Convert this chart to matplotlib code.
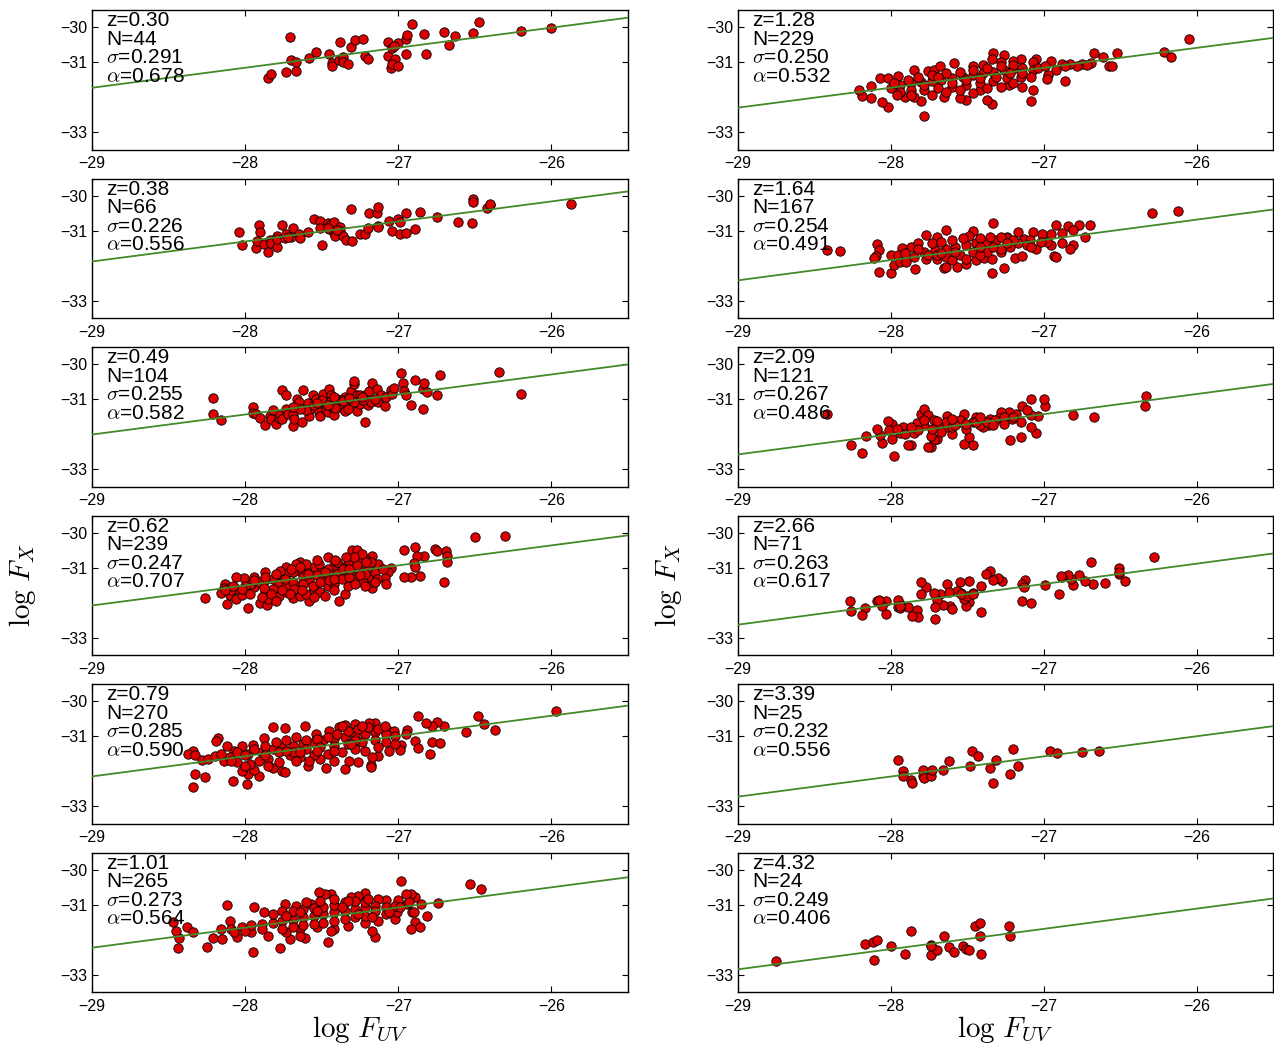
import matplotlib
matplotlib.use("Agg")
import matplotlib.pyplot as plt

plt.rcParams['font.family'] = ['Liberation Sans', 'DejaVu Sans']
plt.rcParams['mathtext.fontset'] = 'cm'
plt.rcParams['axes.unicode_minus'] = True

# === Werte ===
z_vals = ["0.30", "0.38", "0.49", "0.62", "0.79", "1.01",
          "1.28", "1.64", "2.09", "2.66", "3.39", "4.32"]
n_vals = [44, 66, 104, 239, 270, 265, 229, 167, 121, 71, 25, 24]
sigma_vals = ["0.291", "0.226", "0.255", "0.247", "0.285", "0.273",
              "0.250", "0.254", "0.267", "0.263", "0.232", "0.249"]
alpha_vals = ["0.678", "0.556", "0.582", "0.707", "0.590", "0.564",
              "0.532", "0.491", "0.486", "0.617", "0.556", "0.406"]

# Fitgerade: log F_X bei log F_UV = -29 und -25.5
line_lo = [-31.73, -31.88, -32.01, -32.08, -32.15, -32.23,
           -32.30, -32.42, -32.58, -32.63, -32.73, -32.85]
line_hi = [-29.72, -29.87, -30.00, -30.07, -30.12, -30.21,
           -30.30, -30.39, -30.56, -30.59, -30.71, -30.82]

# Messpunkte (log F_UV, log F_X) je Rotverschiebungs-Bin
pts_030 = [(-27.85, -31.44), (-27.83, -31.34), (-27.73, -31.29), (-27.67, -31.25), (-27.71, -30.26),
           (-27.70, -30.92), (-27.67, -30.99), (-27.58, -30.87), (-27.54, -30.69), (-27.45, -30.77),
           (-27.43, -31.01), (-27.43, -31.10), (-27.39, -30.93), (-27.38, -30.41), (-27.36, -30.84),
           (-27.36, -30.98), (-27.33, -31.04), (-27.31, -30.56), (-27.28, -30.35), (-27.23, -30.33),
           (-27.22, -30.82), (-27.20, -30.90), (-27.07, -30.42), (-27.07, -30.81), (-27.04, -30.58),
           (-27.00, -30.45), (-27.02, -30.90), (-27.05, -31.17), (-27.04, -31.06), (-27.00, -31.12),
           (-26.95, -30.32), (-26.94, -30.23), (-26.91, -29.91), (-26.95, -30.77), (-26.83, -30.20),
           (-26.82, -30.77), (-26.70, -30.13), (-26.67, -30.50), (-26.63, -30.24), (-26.51, -30.16),
           (-26.47, -29.83), (-26.20, -30.10), (-26.00, -30.01), (-27.03, -30.52)]

pts_038 = [(-28.04, -31.04), (-28.02, -31.42), (-27.93, -31.49), (-27.92, -31.29), (-27.91, -30.82),
           (-27.90, -31.04), (-27.88, -31.38), (-27.85, -31.62), (-27.84, -31.27), (-27.83, -31.36),
           (-27.79, -31.46), (-27.79, -31.15), (-27.79, -31.23), (-27.76, -30.84), (-27.74, -31.20),
           (-27.73, -31.08), (-27.70, -31.19), (-27.69, -30.93), (-27.65, -31.10), (-27.64, -31.21),
           (-27.59, -31.04), (-27.55, -30.66), (-27.51, -30.71), (-27.51, -30.93), (-27.50, -31.41),
           (-27.46, -30.79), (-27.45, -30.96), (-27.44, -30.80), (-27.42, -30.76), (-27.42, -31.06),
           (-27.41, -31.15), (-27.38, -30.90), (-27.38, -31.01), (-27.36, -31.15), (-27.34, -31.25),
           (-27.31, -30.37), (-27.30, -31.30), (-27.25, -31.08), (-27.22, -31.10), (-27.20, -30.91),
           (-27.19, -30.48), (-27.14, -30.50), (-27.13, -30.32), (-27.13, -30.85), (-27.13, -30.90),
           (-27.06, -30.71), (-27.04, -31.01), (-27.00, -30.65), (-26.99, -30.76), (-26.99, -31.10),
           (-26.95, -31.06), (-26.95, -30.48), (-26.89, -30.94), (-26.86, -30.45), (-26.75, -30.60),
           (-26.61, -30.75), (-26.52, -30.77), (-26.51, -30.10), (-26.51, -30.18), (-26.42, -30.35),
           (-26.40, -30.27), (-26.40, -30.22), (-25.87, -30.22), (-27.40, -30.98), (-27.72, -31.17),
           (-27.46, -30.93)]

pts_049 = [(-28.21, -30.96), (-28.21, -31.41), (-28.16, -31.60), (-27.95, -31.23), (-27.95, -31.39),
           (-27.93, -31.43), (-27.90, -31.54), (-27.87, -31.73), (-27.84, -31.49), (-27.83, -31.57),
           (-27.82, -31.30), (-27.80, -31.72), (-27.78, -31.54), (-27.77, -31.44), (-27.76, -31.56),
           (-27.76, -30.74), (-27.73, -30.89), (-27.73, -31.29), (-27.72, -31.41), (-27.69, -31.41),
           (-27.69, -31.77), (-27.68, -31.56), (-27.66, -30.98), (-27.65, -31.08), (-27.63, -31.66),
           (-27.62, -30.72), (-27.59, -31.12), (-27.58, -31.49), (-27.57, -31.24), (-27.56, -30.89),
           (-27.54, -31.00), (-27.52, -31.22), (-27.52, -31.36), (-27.51, -31.49), (-27.51, -31.08),
           (-27.49, -30.84), (-27.50, -31.03), (-27.47, -31.32), (-27.46, -31.36), (-27.45, -30.71),
           (-27.44, -30.89), (-27.43, -31.22), (-27.42, -31.46), (-27.41, -31.06), (-27.40, -30.98),
           (-27.38, -31.15), (-27.37, -31.24), (-27.35, -30.93), (-27.35, -31.34), (-27.33, -31.10),
           (-27.32, -31.15), (-27.31, -30.77), (-27.29, -30.55), (-27.29, -30.48), (-27.28, -31.20),
           (-27.27, -31.33), (-27.27, -30.89), (-27.25, -30.89), (-27.25, -31.14), (-27.22, -31.65),
           (-27.22, -30.87), (-27.20, -31.17), (-27.19, -30.77), (-27.18, -31.08), (-27.17, -30.52),
           (-27.14, -30.71), (-27.13, -31.08), (-27.11, -30.89), (-27.09, -31.20), (-27.08, -30.93),
           (-27.05, -30.73), (-27.04, -30.84), (-27.03, -30.67), (-26.98, -30.25), (-26.97, -30.53),
           (-26.96, -30.77), (-26.95, -30.89), (-26.92, -31.17), (-26.89, -30.45), (-26.84, -30.71),
           (-26.84, -31.29), (-26.83, -30.52), (-26.81, -30.79), (-26.75, -30.89), (-26.73, -30.31),
           (-26.34, -30.22), (-26.20, -30.86), (-27.60, -31.32), (-27.55, -31.15), (-27.44, -31.06),
           (-27.41, -31.25), (-27.37, -31.03), (-27.33, -31.27), (-27.29, -31.08), (-27.23, -31.03),
           (-27.15, -30.98), (-27.64, -31.27), (-27.69, -31.22), (-27.53, -31.10), (-27.46, -31.15),
           (-27.42, -30.93), (-27.36, -31.06), (-27.32, -30.96), (-27.24, -30.93)]

pts_062 = [(-28.26, -31.87), (-28.12, -32.04), (-27.98, -32.16), (-27.90, -32.00), (-27.86, -32.08),
           (-27.39, -31.96), (-27.58, -31.96), (-26.50, -30.11), (-26.30, -30.10), (-26.70, -31.40),
           (-26.96, -30.50), (-26.89, -30.41), (-26.76, -30.45), (-26.75, -30.53), (-26.69, -30.52),
           (-26.68, -30.67), (-26.68, -30.84), (-26.83, -30.65), (-26.88, -30.65), (-26.90, -30.87),
           (-26.89, -30.98), (-26.86, -31.24), (-26.92, -31.25), (-26.96, -31.25), (-27.05, -31.01),
           (-27.07, -31.12), (-27.09, -31.29), (-27.08, -31.46), (-27.17, -31.57), (-27.18, -31.41),
           (-27.17, -30.66), (-27.30, -30.50), (-27.27, -30.50), (-27.31, -30.74), (-27.46, -30.69),
           (-27.64, -30.84), (-27.73, -30.98), (-27.87, -31.13), (-27.94, -31.27), (-28.01, -31.30),
           (-28.06, -31.27), (-28.13, -31.46), (-28.14, -31.57), (-28.16, -31.72), (-28.10, -31.77),
           (-28.06, -31.88), (-28.02, -31.79), (-27.99, -31.65), (-27.94, -31.56), (-27.87, -31.73),
           (-27.85, -31.89), (-27.78, -31.80), (-27.73, -31.70), (-27.69, -31.87), (-27.64, -31.80),
           (-27.60, -31.75), (-27.55, -31.65), (-27.51, -31.69), (-27.46, -31.51), (-27.42, -31.46),
           (-27.35, -31.75), (-27.33, -31.51), (-27.28, -31.36), (-27.23, -31.41), (-27.18, -31.27),
           (-27.15, -31.12), (-27.13, -30.89), (-27.22, -30.74), (-27.20, -30.98), (-27.26, -30.79),
           (-27.33, -30.89), (-27.37, -30.98), (-27.42, -30.93), (-27.46, -31.03), (-27.51, -31.08),
           (-27.55, -30.98), (-27.60, -31.03), (-27.64, -31.08), (-27.69, -31.12), (-27.73, -31.17),
           (-27.78, -31.27), (-27.82, -31.32), (-27.87, -31.36), (-27.91, -31.41), (-27.96, -31.46),
           (-28.00, -31.51), (-28.05, -31.60), (-28.09, -31.65), (-27.62, -31.27), (-27.58, -31.36),
           (-27.53, -31.22), (-27.49, -31.32), (-27.44, -31.22), (-27.40, -31.17), (-27.35, -31.12),
           (-27.31, -31.08), (-27.26, -31.03), (-27.22, -31.17), (-27.78, -31.46), (-27.73, -31.51),
           (-27.69, -31.41), (-27.64, -31.51), (-27.82, -31.60), (-27.76, -31.63), (-27.68, -31.60),
           (-27.62, -31.46), (-27.56, -31.51), (-27.51, -31.41), (-27.45, -31.36), (-27.37, -31.32),
           (-27.32, -31.27), (-27.25, -31.22), (-27.88, -31.57), (-27.83, -31.75), (-27.97, -31.75),
           (-28.02, -31.60), (-27.67, -30.89), (-27.60, -30.89), (-27.52, -30.89), (-27.40, -30.84),
           (-27.36, -31.03), (-27.27, -30.93), (-27.18, -30.84), (-27.24, -30.60), (-27.29, -30.69),
           (-27.34, -30.69), (-27.77, -31.08), (-27.70, -31.03), (-27.64, -30.98), (-27.87, -31.27),
           (-27.80, -31.17), (-27.94, -31.36), (-28.08, -31.51), (-28.13, -31.63), (-27.10, -31.03),
           (-27.14, -31.32), (-27.22, -31.51), (-27.28, -31.46), (-27.42, -31.65), (-27.48, -31.80),
           (-27.55, -31.84), (-27.63, -31.65), (-27.71, -31.75), (-27.80, -31.96), (-27.89, -31.84),
           (-27.53, -30.79), (-27.41, -30.79), (-27.21, -30.84), (-27.74, -31.32), (-27.59, -31.17),
           (-27.48, -31.12), (-27.42, -31.32), (-27.32, -31.03), (-27.15, -31.41)]

pts_079 = [(-25.97, -30.28), (-26.48, -30.43), (-26.44, -30.64), (-26.37, -30.81), (-26.56, -30.88),
           (-26.70, -30.71), (-26.75, -30.58), (-26.78, -30.69), (-26.82, -30.62), (-26.87, -30.43),
           (-26.94, -30.82), (-26.89, -31.14), (-26.87, -31.33), (-26.78, -31.17), (-26.73, -31.18),
           (-26.79, -31.51), (-26.98, -31.25), (-26.99, -31.38), (-27.06, -30.85), (-27.03, -30.84),
           (-27.15, -30.62), (-27.19, -30.62), (-27.28, -30.64), (-27.35, -30.67), (-27.39, -30.74),
           (-27.45, -30.84), (-27.54, -30.93), (-27.61, -30.69), (-27.74, -30.77), (-27.82, -30.73),
           (-27.88, -31.04), (-27.95, -31.25), (-28.02, -31.29), (-28.07, -31.41), (-28.12, -31.29),
           (-28.18, -31.05), (-28.19, -31.14), (-28.34, -31.41), (-28.37, -31.51), (-28.33, -31.55),
           (-28.28, -31.68), (-28.24, -31.65), (-28.20, -31.56), (-28.14, -31.70), (-28.33, -32.09),
           (-28.26, -32.16), (-28.34, -32.44), (-28.08, -32.27), (-27.99, -32.37), (-27.91, -32.15),
           (-27.98, -32.08), (-28.02, -32.00), (-27.94, -31.96), (-27.82, -31.91), (-27.76, -32.00),
           (-27.74, -32.03), (-27.59, -31.85), (-27.47, -31.91), (-27.35, -31.94), (-27.18, -31.82),
           (-27.18, -31.87), (-27.13, -31.56), (-27.26, -31.75), (-27.32, -31.70), (-27.42, -31.70),
           (-27.51, -31.65), (-27.64, -31.60), (-27.71, -31.55), (-27.78, -31.75), (-27.85, -31.65),
           (-27.91, -31.70), (-27.97, -31.79), (-28.05, -31.75), (-28.10, -31.60), (-28.16, -31.51),
           (-28.05, -31.46), (-27.98, -31.52), (-27.89, -31.46), (-27.82, -31.36), (-27.76, -31.31),
           (-27.69, -31.27), (-27.62, -31.22), (-27.55, -31.17), (-27.49, -31.12), (-27.42, -31.07),
           (-27.35, -31.03), (-27.28, -30.98), (-27.22, -30.93), (-27.15, -30.88), (-27.08, -30.93),
           (-27.02, -30.98), (-27.33, -30.84), (-27.26, -30.79), (-27.20, -30.74), (-27.13, -30.79),
           (-27.40, -30.93), (-27.46, -31.03), (-27.53, -31.07), (-27.60, -31.12), (-27.67, -31.03),
           (-27.73, -31.10), (-27.80, -31.17), (-27.87, -31.27), (-27.94, -31.36), (-28.00, -31.55),
           (-28.09, -31.70), (-27.78, -31.46), (-27.69, -31.46), (-27.60, -31.36), (-27.51, -31.31),
           (-27.42, -31.27), (-27.33, -31.22), (-27.24, -31.17), (-27.15, -31.12), (-27.08, -31.17),
           (-27.28, -31.36), (-27.37, -31.46), (-27.46, -31.51), (-27.55, -31.55), (-27.64, -31.46),
           (-27.73, -31.41), (-27.87, -31.55), (-27.22, -31.41), (-27.13, -31.31), (-27.28, -31.12),
           (-27.42, -31.41), (-27.53, -31.41), (-27.67, -31.70), (-27.58, -31.70), (-27.85, -31.84),
           (-28.00, -31.84), (-27.37, -30.69), (-27.24, -30.69), (-27.09, -30.69), (-27.31, -31.22),
           (-27.02, -31.22), (-26.95, -30.93), (-27.06, -31.41), (-27.17, -31.60)]

pts_101 = [(-26.53, -30.39), (-26.46, -30.55), (-26.98, -30.33), (-26.74, -30.96), (-26.81, -31.31),
           (-26.85, -30.98), (-26.89, -30.79), (-26.92, -30.69), (-26.95, -30.69), (-26.94, -30.98),
           (-26.91, -31.22), (-26.89, -31.48), (-26.86, -31.65), (-26.92, -31.68), (-27.02, -31.41),
           (-27.01, -31.22), (-27.00, -30.86), (-27.08, -30.86), (-27.13, -30.84), (-27.15, -31.91),
           (-27.17, -31.75), (-27.22, -30.66), (-27.26, -30.74), (-27.31, -30.79), (-27.44, -30.69),
           (-27.48, -30.69), (-27.52, -30.62), (-27.46, -32.08), (-27.61, -31.96), (-27.71, -31.98),
           (-27.77, -32.25), (-27.95, -32.34), (-28.25, -32.22), (-28.44, -32.24), (-28.43, -31.94),
           (-28.45, -31.76), (-28.47, -31.48), (-28.38, -31.65), (-28.34, -31.79), (-28.12, -31.00),
           (-28.10, -31.46), (-27.94, -31.06), (-27.88, -31.22), (-27.74, -30.98), (-27.67, -31.03),
           (-27.57, -30.98), (-28.21, -31.94), (-28.15, -31.98), (-28.05, -31.91), (-27.96, -31.79),
           (-27.85, -31.89), (-27.73, -31.79), (-27.64, -31.70), (-27.53, -31.65), (-27.42, -31.70),
           (-27.33, -31.60), (-27.22, -31.51), (-27.13, -31.46), (-28.16, -31.70), (-28.09, -31.70),
           (-28.02, -31.65), (-27.96, -31.58), (-27.89, -31.55), (-27.82, -31.51), (-27.76, -31.46),
           (-27.69, -31.43), (-27.62, -31.36), (-27.55, -31.31), (-27.49, -31.27), (-27.42, -31.22),
           (-27.35, -31.17), (-27.28, -31.12), (-27.22, -31.07), (-27.15, -31.03), (-27.08, -31.07),
           (-27.02, -31.03), (-27.82, -31.27), (-27.76, -31.17), (-27.69, -31.17), (-27.62, -31.12),
           (-27.55, -31.10), (-27.49, -31.05), (-27.42, -31.01), (-27.35, -30.93), (-27.28, -30.88),
           (-27.22, -30.93), (-27.15, -31.17), (-27.08, -31.27), (-27.22, -31.31), (-27.28, -31.36),
           (-27.35, -31.41), (-27.42, -31.46), (-27.49, -31.51), (-27.55, -31.55), (-27.62, -31.58),
           (-27.69, -31.65), (-27.76, -31.70), (-27.89, -31.70), (-28.00, -31.74), (-28.07, -31.79),
           (-27.64, -31.89), (-27.44, -31.74), (-27.33, -30.88), (-27.20, -30.84), (-27.06, -31.22),
           (-26.99, -31.07), (-26.93, -30.93), (-26.90, -31.22), (-27.42, -30.84), (-27.51, -30.88),
           (-27.60, -30.93), (-27.73, -31.31), (-27.64, -31.22), (-27.53, -31.17), (-27.37, -31.07),
           (-27.26, -31.27), (-27.17, -31.36)]

pts_128 = [(-26.05, -30.34), (-26.21, -30.69), (-26.17, -30.84), (-26.52, -30.72), (-26.67, -30.72),
           (-26.61, -30.84), (-26.57, -31.10), (-26.55, -31.10), (-26.69, -31.03), (-26.75, -31.06),
           (-26.78, -31.10), (-26.83, -31.06), (-26.88, -31.06), (-26.95, -30.96), (-26.92, -31.22),
           (-26.97, -31.35), (-26.98, -31.49), (-26.86, -31.54), (-27.05, -30.91), (-27.07, -30.98),
           (-27.15, -30.91), (-27.20, -30.96), (-27.26, -30.79), (-27.33, -30.74), (-27.34, -30.91),
           (-27.28, -30.98), (-27.07, -31.80), (-27.08, -32.11), (-27.14, -31.70), (-27.23, -31.65),
           (-27.34, -32.20), (-27.37, -32.09), (-27.42, -31.80), (-27.51, -32.08), (-27.55, -32.01),
           (-27.65, -31.99), (-27.78, -32.53), (-27.80, -32.11), (-27.85, -31.99), (-27.91, -31.99),
           (-28.02, -32.29), (-28.06, -32.14), (-28.13, -32.01), (-28.19, -31.96), (-28.21, -31.80),
           (-28.13, -31.68), (-28.07, -31.46), (-28.02, -31.46), (-27.95, -31.39), (-27.85, -31.22),
           (-27.76, -31.25), (-27.72, -31.22), (-27.68, -31.10), (-27.59, -31.03), (-27.46, -31.10),
           (-27.40, -31.08), (-28.00, -31.75), (-27.94, -31.65), (-27.87, -31.60), (-27.80, -31.57),
           (-27.73, -31.54), (-27.67, -31.51), (-27.60, -31.46), (-27.53, -31.41), (-27.46, -31.36),
           (-27.40, -31.32), (-27.33, -31.27), (-27.26, -31.22), (-27.20, -31.19), (-27.14, -31.17),
           (-27.07, -31.22), (-27.94, -31.84), (-27.87, -31.80), (-27.78, -31.80), (-27.69, -31.75),
           (-27.60, -31.70), (-27.51, -31.65), (-27.42, -31.60), (-27.33, -31.54), (-27.24, -31.46),
           (-27.15, -31.41), (-27.08, -31.41), (-27.82, -31.41), (-27.73, -31.36), (-27.64, -31.32),
           (-27.55, -31.27), (-27.46, -31.22), (-27.37, -31.17), (-27.28, -31.12), (-27.20, -31.08),
           (-27.98, -31.60), (-27.89, -31.51), (-27.64, -31.84), (-27.55, -31.80), (-27.46, -31.89),
           (-27.37, -31.75), (-27.28, -31.70), (-27.20, -31.60), (-27.87, -31.94), (-27.73, -31.94),
           (-27.60, -31.60), (-27.51, -31.51), (-27.42, -31.46), (-27.31, -31.41), (-27.22, -31.32),
           (-27.14, -31.32), (-27.04, -31.17), (-26.99, -31.12), (-26.86, -31.12), (-26.72, -31.08),
           (-27.69, -31.41), (-27.78, -31.65), (-27.96, -31.94)]

pts_164 = [(-26.12, -30.43), (-26.29, -30.48), (-26.70, -30.84), (-26.77, -30.84), (-26.84, -30.86),
           (-26.92, -30.84), (-26.81, -30.98), (-26.88, -31.06), (-26.73, -31.17), (-26.81, -31.41),
           (-26.83, -31.51), (-26.88, -31.36), (-26.95, -31.41), (-26.98, -31.32), (-26.95, -31.08),
           (-27.01, -31.10), (-27.07, -31.03), (-27.13, -31.24), (-27.17, -31.03), (-27.24, -31.17),
           (-27.26, -32.08), (-27.34, -32.20), (-27.33, -30.79), (-27.46, -31.01), (-27.49, -31.15),
           (-27.64, -30.98), (-27.70, -31.17), (-27.77, -31.12), (-27.85, -31.46), (-27.87, -31.46),
           (-27.93, -31.49), (-28.00, -31.70), (-27.95, -31.70), (-28.09, -31.39), (-28.08, -31.56),
           (-28.10, -31.73), (-28.11, -31.77), (-28.08, -32.18), (-28.00, -32.20), (-27.98, -31.99),
           (-27.94, -31.89), (-27.90, -31.89), (-27.84, -32.10), (-27.77, -31.82), (-27.70, -31.82),
           (-27.65, -32.08), (-27.64, -32.03), (-27.57, -32.03), (-27.51, -31.96), (-27.44, -31.84),
           (-27.39, -31.77), (-27.34, -31.80), (-27.28, -31.60), (-27.19, -31.78), (-27.14, -31.73),
           (-26.93, -31.71), (-26.92, -31.75), (-27.05, -31.51), (-27.09, -31.27), (-28.42, -31.54),
           (-28.33, -31.58), (-27.91, -31.65), (-27.85, -31.75), (-27.78, -31.60), (-27.71, -31.56),
           (-27.64, -31.51), (-27.58, -31.46), (-27.51, -31.41), (-27.44, -31.36), (-27.37, -31.32),
           (-27.31, -31.27), (-27.24, -31.22), (-27.17, -31.36), (-27.11, -31.41), (-27.82, -31.36),
           (-27.73, -31.36), (-27.67, -31.32), (-27.60, -31.27), (-27.53, -31.22), (-27.42, -31.22),
           (-27.35, -31.17), (-27.28, -31.17), (-27.20, -31.27), (-27.64, -31.75), (-27.55, -31.70),
           (-27.46, -31.60), (-27.37, -31.60), (-27.28, -31.51), (-27.22, -31.46), (-27.76, -31.70),
           (-27.60, -31.84), (-27.51, -31.80), (-27.42, -31.70), (-27.33, -31.46), (-27.08, -31.46),
           (-27.02, -31.32), (-27.58, -31.60), (-27.70, -31.70), (-27.42, -31.46), (-27.24, -31.36),
           (-27.82, -31.51), (-27.67, -31.63)]

pts_209 = [(-26.33, -30.90), (-26.34, -31.20), (-26.67, -31.51), (-26.81, -31.44), (-26.99, -31.19),
           (-27.00, -31.00), (-27.08, -30.98), (-27.14, -31.20), (-27.05, -31.96), (-27.08, -31.80),
           (-27.04, -31.49), (-27.08, -31.46), (-27.11, -31.32), (-27.15, -31.65), (-27.15, -32.08),
           (-27.22, -32.16), (-27.18, -31.41), (-27.21, -31.56), (-27.23, -31.36), (-27.28, -31.36),
           (-27.29, -31.54), (-27.35, -31.57), (-27.36, -31.73), (-27.40, -31.80), (-27.44, -31.51),
           (-27.46, -32.30), (-27.52, -32.29), (-27.49, -32.08), (-27.51, -31.84), (-27.52, -31.41),
           (-27.55, -31.65), (-27.60, -31.99), (-27.63, -31.48), (-27.63, -31.78), (-27.70, -32.13),
           (-27.72, -32.18), (-27.74, -32.06), (-27.74, -32.37), (-27.76, -32.37), (-27.80, -31.41),
           (-27.78, -31.27), (-27.76, -31.46), (-27.72, -31.60), (-27.78, -31.75), (-27.83, -31.67),
           (-27.85, -31.96), (-27.87, -32.30), (-27.89, -32.30), (-27.92, -31.78), (-27.94, -31.96),
           (-27.99, -31.70), (-28.02, -31.63), (-27.99, -32.13), (-28.06, -32.24), (-28.01, -31.87),
           (-28.07, -32.01), (-28.09, -31.86), (-28.16, -32.05), (-28.19, -32.53), (-27.98, -32.62),
           (-28.26, -32.32), (-28.42, -31.41), (-27.64, -31.65), (-27.60, -31.80), (-27.55, -31.60),
           (-27.46, -31.65), (-27.42, -31.75), (-27.37, -31.65), (-27.32, -31.60), (-27.26, -31.51),
           (-27.20, -31.51), (-27.69, -31.75), (-27.73, -31.84), (-27.82, -31.89), (-27.91, -31.99),
           (-27.96, -31.84), (-27.67, -31.94), (-27.58, -31.75), (-27.51, -31.70), (-27.44, -31.65),
           (-27.33, -31.75), (-27.26, -31.70), (-27.42, -31.51), (-27.60, -31.56), (-27.70, -31.63),
           (-27.78, -31.60), (-27.87, -31.80)]

pts_266 = [(-26.28, -30.69), (-26.69, -30.84), (-26.51, -31.00), (-26.51, -31.19), (-26.47, -31.38),
           (-26.60, -31.43), (-26.68, -31.47), (-26.73, -31.38), (-26.77, -31.21), (-26.81, -31.48),
           (-26.82, -31.31), (-26.84, -31.20), (-26.88, -31.26), (-26.89, -31.24), (-26.90, -31.75),
           (-26.99, -31.48), (-27.12, -31.36), (-27.14, -31.45), (-27.13, -31.55), (-27.14, -31.94),
           (-27.08, -32.01), (-27.27, -31.39), (-27.30, -31.30), (-27.33, -31.36), (-27.35, -31.10),
           (-27.38, -31.19), (-27.41, -31.53), (-27.41, -32.26), (-27.46, -31.72), (-27.49, -31.37),
           (-27.49, -31.99), (-27.51, -32.10), (-27.52, -31.89), (-27.54, -31.72), (-27.55, -31.41),
           (-27.57, -31.66), (-27.61, -32.10), (-27.60, -32.17), (-27.63, -31.46), (-27.66, -32.06),
           (-27.68, -31.75), (-27.70, -31.91), (-27.72, -31.73), (-27.71, -32.13), (-27.71, -32.48),
           (-27.77, -31.55), (-27.80, -31.41), (-27.80, -31.75), (-27.83, -32.20), (-27.82, -32.41),
           (-27.86, -32.37), (-27.89, -32.12), (-27.94, -32.03), (-27.95, -31.91), (-27.95, -32.13),
           (-27.94, -32.15), (-28.03, -31.95), (-28.03, -32.32), (-28.06, -32.10), (-28.09, -31.96),
           (-28.08, -31.91), (-28.17, -32.15), (-28.19, -32.36), (-28.27, -31.94), (-28.26, -32.24),
           (-27.50, -31.81), (-27.46, -31.76), (-27.54, -31.76), (-27.62, -31.70), (-27.94, -32.10),
           (-26.51, -31.12)]

pts_339 = [(-27.95, -31.69), (-27.92, -32.00), (-27.92, -32.13), (-27.87, -32.25), (-27.86, -32.34),
           (-27.79, -31.96), (-27.79, -32.13), (-27.78, -32.20), (-27.74, -32.15), (-27.73, -31.98),
           (-27.66, -31.96), (-27.62, -31.70), (-27.48, -31.85), (-27.47, -31.41), (-27.43, -31.56),
           (-27.35, -31.91), (-27.33, -32.34), (-27.31, -31.67), (-27.22, -32.09), (-27.20, -31.35),
           (-27.17, -31.86), (-26.96, -31.41), (-26.91, -31.48), (-26.75, -31.44), (-26.64, -31.41)]

pts_432 = [(-28.75, -32.62), (-28.17, -32.11), (-28.12, -32.06), (-28.09, -32.02), (-28.11, -32.59),
           (-28.00, -32.17), (-27.91, -32.42), (-27.87, -31.76), (-27.74, -32.16), (-27.74, -32.45),
           (-27.70, -32.30), (-27.65, -31.88), (-27.62, -32.20), (-27.59, -32.34), (-27.53, -32.18),
           (-27.51, -32.27), (-27.49, -32.29), (-27.45, -31.62), (-27.42, -31.53), (-27.42, -31.88),
           (-27.41, -32.41), (-27.23, -31.61), (-27.22, -31.88), (-27.74, -32.19)]

panels = [pts_030, pts_038, pts_049, pts_062, pts_079, pts_101,
          pts_128, pts_164, pts_209, pts_266, pts_339, pts_432]

# === Layout (Pixel -> Figurenbruchteile) ===
W, H = 1274.0, 1050.0
col_left = [92, 738]
col_width = [536, 535]
row_top = [10, 178.5, 347, 515.5, 684, 852.5]
ax_h = 139.5

fig = plt.figure(figsize=(12.74, 10.5), dpi=100)

for i, pts in enumerate(panels):
    col, row = divmod(i, 6)
    rect = [col_left[col] / W, 1 - (row_top[row] + ax_h) / H,
            col_width[col] / W, ax_h / H]
    ax = fig.add_axes(rect)

    xs = [p[0] for p in pts]
    ys = [p[1] for p in pts]
    ax.scatter(xs, ys, s=46, c='#dd0000', edgecolors='black',
               linewidths=0.6, zorder=2)
    ax.plot([-29, -25.5], [line_lo[i], line_hi[i]], color='#43892a',
            lw=1.3, zorder=3)

    ax.set_xlim(-29, -25.5)
    ax.set_ylim(-33.5, -29.5)
    ax.set_xticks([-29, -28, -27, -26])
    ax.set_yticks([-30, -31, -33])
    ax.tick_params(direction='in', top=True, right=True, length=4,
                   width=0.8, labelsize=11.5)
    ax.tick_params(axis='x', pad=5)
    ax.tick_params(axis='y', pad=3)
    for sp in ax.spines.values():
        sp.set_linewidth(1.0)

    labels = ["z=" + z_vals[i], "N=%d" % n_vals[i],
              r"$\sigma$=" + sigma_vals[i], r"$\alpha$=" + alpha_vals[i]]
    for k, t in enumerate(labels):
        ax.text(0.027, 0.885 - 0.133 * k, t, transform=ax.transAxes,
                fontsize=15, va='baseline', ha='left', zorder=4)

    if row == 3:
        ax.set_ylabel(r"$\log\,F_X$", fontsize=21)
        ax.yaxis.set_label_coords(-0.10, 0.5)
    if row == 5:
        ax.set_xlabel(r"$\log\,F_{UV}$", fontsize=21)
        ax.xaxis.set_label_coords(0.5, -0.16)

fig.savefig("out.png", dpi=100)
